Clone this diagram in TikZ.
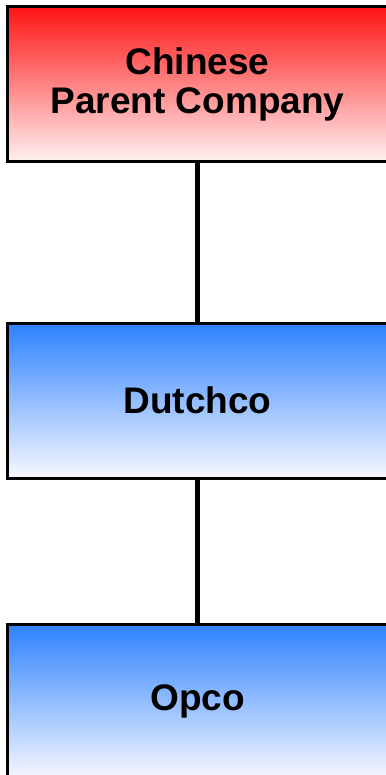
\documentclass[tikz,border=0pt]{standalone}
\usepackage{fontspec}
\setmainfont{Liberation Sans}
\usetikzlibrary{positioning}
\definecolor{parentred}{RGB}{255,20,20}
\definecolor{parentlow}{RGB}{255,242,242}
\definecolor{subblue}{RGB}{45,130,255}
\definecolor{sublow}{RGB}{248,248,255}

\begin{document}
\begin{tikzpicture}[x=1pt, y=-1pt,
  entity/.style={draw=black, line width=3pt, minimum width=380pt, minimum height=155pt,
    inner sep=0pt, align=center, font=\fontsize{37}{38.5}\selectfont\bfseries},
  parentbox/.style={entity, top color=parentred, bottom color=parentlow},
  subbox/.style={entity, top color=subblue, bottom color=sublow},
  link/.style={line width=4.5pt, black}]
  \useasboundingbox (0,0) rectangle (385,775);
  % Ownership chain
  \node[parentbox] (parent) at (197.5,84.5) {Chinese\\Parent Company};
  \node[subbox, below=158pt of parent] (dutch) {Dutchco};
  \node[subbox, below=143pt of dutch] (opco) {Opco};
  % Connectors
  \draw[link] (parent) -- (dutch);
  \draw[link] (dutch) -- (opco);
\end{tikzpicture}
\end{document}
